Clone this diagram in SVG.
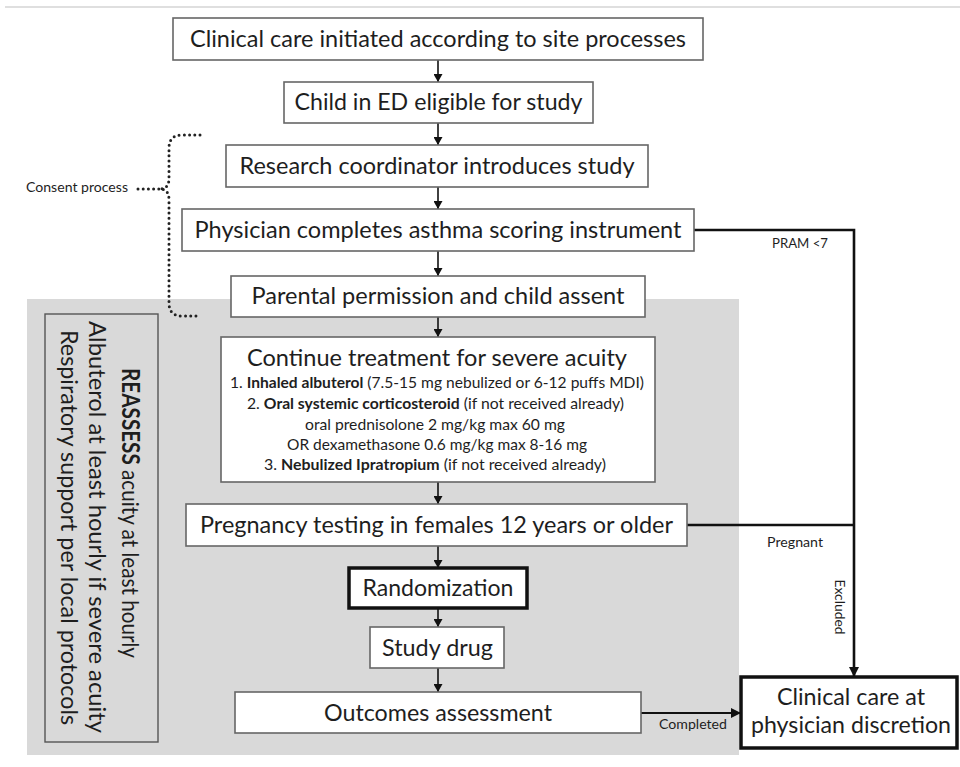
<svg xmlns="http://www.w3.org/2000/svg" width="960" height="767" viewBox="0 0 960 767">
<defs>
<style>
text{font-family:Lato,"Open Sans","Liberation Sans",sans-serif;fill:#1e1e1e}
.box{fill:#fff;stroke:#666;stroke-width:1.6}
.thick{fill:#fff;stroke:#111;stroke-width:3.5}
.t24{font-size:24px;text-anchor:middle}
.t15{font-size:15px;text-anchor:middle}
.lbl{font-size:13px;text-anchor:middle}
.arr{stroke:#111;stroke-width:1.6;fill:none;marker-end:url(#ah)}
.con{stroke:#111;stroke-width:2.6;fill:none}
.dot{stroke:#222;stroke-width:3;fill:none;stroke-linecap:round;stroke-dasharray:0 5.2}
</style>
<marker id="ah" markerUnits="userSpaceOnUse" markerWidth="8" markerHeight="9" refX="8" refY="4.5" orient="auto"><path d="M0,0 L8,4.5 L0,9 z" fill="#111"/></marker>
<marker id="ah2" markerUnits="userSpaceOnUse" markerWidth="10" markerHeight="10" refX="10" refY="5" orient="auto"><path d="M0,0 L10,5 L0,10 z" fill="#111"/></marker>
</defs>
<rect width="960" height="767" fill="#fff"/>
<line x1="5" y1="7" x2="960" y2="7" stroke="#d4d4d4" stroke-width="1.5"/>
<rect id="gray-region" x="27" y="299" width="712" height="456" fill="#d9d9d9"/>

<g id="connectors">
<line class="arr" x1="438" y1="60" x2="438" y2="82"/>
<line class="arr" x1="438" y1="123" x2="438" y2="145"/>
<line class="arr" x1="438" y1="187" x2="438" y2="209"/>
<line class="arr" x1="438" y1="251" x2="438" y2="276"/>
<line class="arr" x1="438" y1="317" x2="438" y2="337"/>
<line class="arr" x1="438" y1="482" x2="438" y2="504"/>
<line class="arr" x1="438" y1="546" x2="438" y2="568"/>
<line class="arr" x1="438" y1="608" x2="438" y2="627"/>
<line class="arr" x1="438" y1="668" x2="438" y2="692"/>
<polyline class="con" points="694,230 854,230 854,677" marker-end="url(#ah2)"/>
<line class="con" x1="687" y1="525" x2="854" y2="525"/>
<line class="con" x1="641" y1="713" x2="741" y2="713" style="stroke-width:2" marker-end="url(#ah2)"/>
<path class="dot" d="M200,135 L182,135 Q169,135 169,148 L169,178 Q169,189 160,189 Q169,189 169,200 L169,303 Q169,316 182,316 L200,316"/>
<line class="dot" x1="138" y1="189" x2="160" y2="189"/>
<text class="lbl" x="800" y="248" textLength="56" lengthAdjust="spacingAndGlyphs">PRAM &lt;7</text>
<text class="lbl" x="795" y="547" textLength="56" lengthAdjust="spacingAndGlyphs">Pregnant</text>
<text class="lbl" transform="translate(835,607) rotate(90)" textLength="55" lengthAdjust="spacingAndGlyphs">Excluded</text>
<text class="lbl" x="693" y="729" textLength="68" lengthAdjust="spacingAndGlyphs">Completed</text>
<text class="lbl" x="77" y="192" textLength="102" lengthAdjust="spacingAndGlyphs">Consent process</text>
</g>

<g id="n1"><rect class="box" x="173" y="18" width="530" height="42"/><text class="t24" x="438" y="47" textLength="496" lengthAdjust="spacingAndGlyphs">Clinical care initiated according to site processes</text></g>
<g id="n2"><rect class="box" x="284" y="82" width="309" height="41"/><text class="t24" x="438.5" y="110" textLength="288" lengthAdjust="spacingAndGlyphs">Child in ED eligible for study</text></g>
<g id="n3"><rect class="box" x="226" y="145" width="422" height="42"/><text class="t24" x="437" y="174" textLength="395" lengthAdjust="spacingAndGlyphs">Research coordinator introduces study</text></g>
<g id="n4"><rect class="box" x="182" y="209" width="512" height="42"/><text class="t24" x="438" y="238" textLength="487" lengthAdjust="spacingAndGlyphs">Physician completes asthma scoring instrument</text></g>
<g id="n5"><rect class="box" x="231" y="276" width="414" height="41"/><text class="t24" x="438" y="304" textLength="373" lengthAdjust="spacingAndGlyphs">Parental permission and child assent</text></g>
<g id="n6"><rect class="box" x="221" y="337" width="434" height="145"/>
<text class="t24" x="437" y="366" textLength="380" lengthAdjust="spacingAndGlyphs">Continue treatment for severe acuity</text>
<text class="t15" x="437" y="388" textLength="414" lengthAdjust="spacingAndGlyphs">1. <tspan font-weight="bold">Inhaled albuterol</tspan> (7.5-15 mg nebulized or 6-12 puffs MDI)</text>
<text class="t15" x="435.5" y="409" textLength="377" lengthAdjust="spacingAndGlyphs">2. <tspan font-weight="bold">Oral systemic corticosteroid</tspan> (if not received already)</text>
<text class="t15" x="435" y="430" textLength="260" lengthAdjust="spacingAndGlyphs">oral prednisolone 2 mg/kg max 60 mg</text>
<text class="t15" x="437" y="450" textLength="300" lengthAdjust="spacingAndGlyphs">OR dexamethasone 0.6 mg/kg max 8-16 mg</text>
<text class="t15" x="435" y="470" textLength="342" lengthAdjust="spacingAndGlyphs">3. <tspan font-weight="bold">Nebulized Ipratropium</tspan> (if not received already)</text>
</g>
<g id="n7"><rect class="box" x="186" y="504" width="501" height="42"/><text class="t24" x="436.5" y="533" textLength="473" lengthAdjust="spacingAndGlyphs">Pregnancy testing in females 12 years or older</text></g>
<g id="n8"><rect class="thick" x="349" y="568" width="178" height="40"/><text class="t24" x="438" y="596" textLength="151" lengthAdjust="spacingAndGlyphs">Randomization</text></g>
<g id="n9"><rect class="box" x="370" y="627" width="134" height="41"/><text class="t24" x="437.5" y="656" textLength="111" lengthAdjust="spacingAndGlyphs">Study drug</text></g>
<g id="n10"><rect class="box" x="235" y="692" width="406" height="41"/><text class="t24" x="438" y="721" textLength="228" lengthAdjust="spacingAndGlyphs">Outcomes assessment</text></g>
<g id="n11"><rect class="thick" x="741" y="677" width="216" height="71"/>
<text class="t24" x="851" y="705" textLength="148" lengthAdjust="spacingAndGlyphs">Clinical care at</text>
<text class="t24" x="851" y="733" textLength="200" lengthAdjust="spacingAndGlyphs">physician discretion</text></g>
<g id="n12"><rect x="45" y="314" width="113" height="428" fill="none" stroke="#555" stroke-width="1.4"/>
<text class="t24" transform="translate(122,513) rotate(90)" textLength="290" lengthAdjust="spacingAndGlyphs"><tspan font-weight="bold">REASSESS</tspan> acuity at least hourly</text>
<text class="t24" transform="translate(89,527) rotate(90)" textLength="412" lengthAdjust="spacingAndGlyphs">Albuterol at least hourly if severe acuity</text>
<text class="t24" transform="translate(61,527.5) rotate(90)" textLength="395" lengthAdjust="spacingAndGlyphs">Respiratory support per local protocols</text>
</g>
</svg>
